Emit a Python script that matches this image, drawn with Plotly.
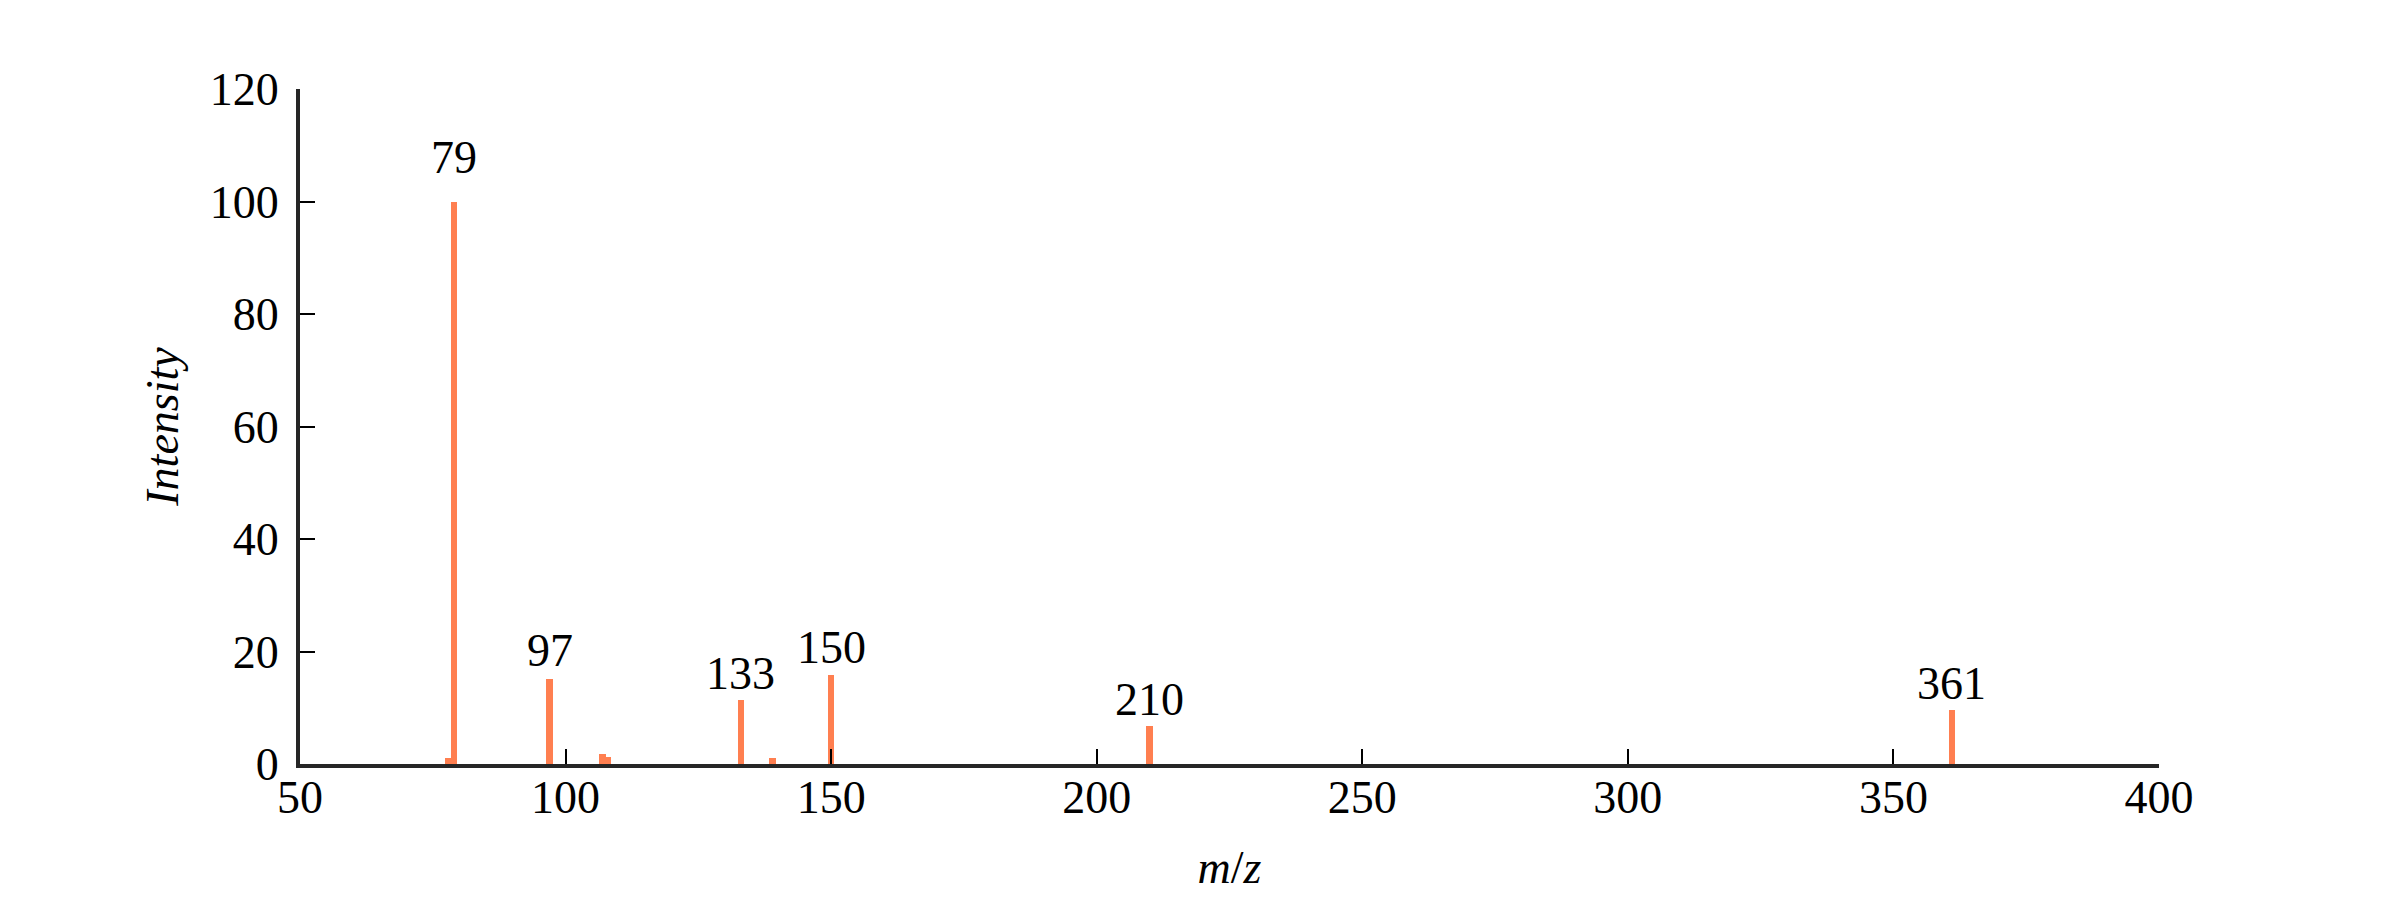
import plotly.graph_objects as go

# Data
mz = [78, 79, 97, 107, 108, 133, 139, 150, 210, 361]
intensity = [1.0, 100.0, 15.2, 1.8, 1.3, 11.3, 1.0, 15.8, 6.8, 9.6]
label_mz = [79, 97, 133, 150, 210, 361]
label_int = [100.0, 15.2, 11.3, 15.8, 6.8, 9.6]
x_ticks = [50, 100, 150, 200, 250, 300, 350, 400]
y_ticks = [0, 20, 40, 60, 80, 100, 120]

BAR_COLOR = "#FF7F50"
FONT = "Liberation Serif"
FS = 46

fig = go.Figure()
fig.add_trace(go.Bar(
    x=mz, y=intensity, width=1.26,
    marker=dict(color=BAR_COLOR, line=dict(width=0)),
    showlegend=False, hoverinfo="x+y",
))

for xm, yi in zip(label_mz, label_int):
    fig.add_annotation(
        x=xm, y=yi, text=str(xm), showarrow=False,
        xanchor="center", yanchor="bottom", yshift=-3 + 0.2 * yi,
        font=dict(family=FONT, size=FS, color="black"),
    )

axis_common = dict(
    showline=True, linewidth=4, linecolor="#262626",
    ticks="inside", ticklen=15, tickwidth=1.5, tickcolor="black",
    showgrid=False, zeroline=False, mirror=False, automargin=False,
    tickfont=dict(family=FONT, size=FS, color="black"),
)

fig.update_layout(
    template="none",
    width=2400, height=900,
    margin=dict(l=292, r=249, t=81, b=144, pad=0),
    paper_bgcolor="white", plot_bgcolor="white",
    bargap=0,
    xaxis=dict(range=[50, 400], tickvals=x_ticks, ticktext=[str(v) for v in x_ticks],
               title=dict(text="<i>m</i>/<i>z</i>", font=dict(family=FONT, size=FS, color="black"), standoff=30),
               ticklabelstandoff=-10,
               **axis_common),
    yaxis=dict(range=[0, 120], tickvals=y_ticks, ticktext=[str(v) for v in y_ticks],
               title=dict(text="<i>Intensity</i>", font=dict(family=FONT, size=FS, color="black"), standoff=18),
               ticklabelstandoff=8,
               **axis_common),
)

fig.write_html("out.html")
